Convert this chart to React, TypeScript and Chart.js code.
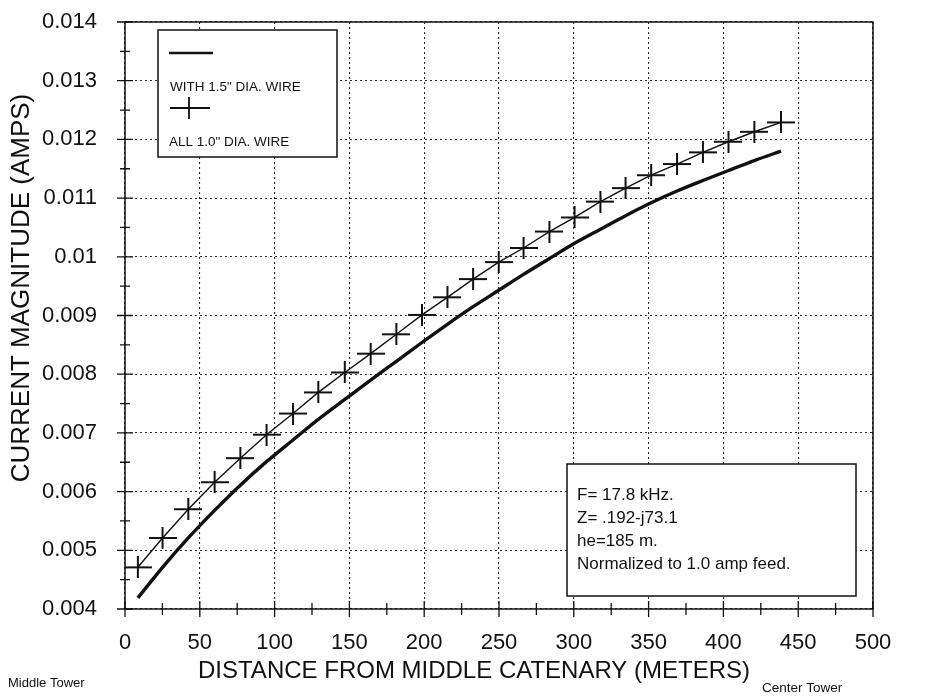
import React, { useEffect, useRef } from "react";
import { Chart, registerables } from "chart.js";

Chart.register(...registerables);

// ---- data ----
const distances = [8.6, 25.1, 42.3, 59.9, 77.1, 94.6, 112.3, 129.2, 146.9, 164.2, 181.4, 198.5, 215.5, 232.7, 249.8, 266.4, 283.7, 300.5, 317.8, 334.6, 351.7, 369.0, 386.3, 403.4, 420.7, 438.5];
const wire15 = [0.00419, 0.00471, 0.00521, 0.00568, 0.00611, 0.00651, 0.00688, 0.00723, 0.00757, 0.0079, 0.00822, 0.00854, 0.00885, 0.00915, 0.00943, 0.0097, 0.00997, 0.01023, 0.01047, 0.0107, 0.01092, 0.01112, 0.0113, 0.01147, 0.01164, 0.0118];
const wire10 = [0.00471, 0.00521, 0.0057, 0.00616, 0.00657, 0.00697, 0.00733, 0.00769, 0.00803, 0.00835, 0.00868, 0.00901, 0.00931, 0.00962, 0.00991, 0.01015, 0.01043, 0.01067, 0.01094, 0.01117, 0.01139, 0.01158, 0.01178, 0.01196, 0.01213, 0.01229];

const seriesLabels = ['WITH 1.5" DIA. WIRE', 'ALL 1.0" DIA. WIRE'];
const xTitle = "DISTANCE FROM MIDDLE CATENARY (METERS)";
const yTitle = "CURRENT MAGNITUDE (AMPS)";
const leftNote = "Middle Tower";
const rightNote = "Center Tower";
const notes = ["F= 17.8 kHz.", "Z= .192-j73.1", "he=185 m.", "Normalized to 1.0 amp feed."];
const xMin = 0, xMax = 500, xStep = 50, xMinor = 25;
const yMin = 0.004, yMax = 0.014, yStep = 0.001, yMinor = 0.0005;

const FONT = '"Liberation Sans", Arial, Helvetica, sans-serif';
const INK = "#111";

function makeCross(): HTMLCanvasElement {
  const c = document.createElement("canvas");
  c.width = 28;
  c.height = 22;
  const g = c.getContext("2d")!;
  g.strokeStyle = INK;
  g.lineWidth = 2;
  g.beginPath();
  g.moveTo(0, 11);
  g.lineTo(28, 11);
  g.moveTo(14, 0);
  g.lineTo(14, 22);
  g.stroke();
  return c;
}

const overlayPlugin = {
  id: "overlay",
  afterDatasetsDraw(chart: any) {
    const { ctx } = chart;
    const ds = chart.data.datasets;
    ctx.save();
    // legend box
    ctx.fillStyle = "#fff";
    ctx.fillRect(158, 30, 179, 127);
    ctx.strokeStyle = INK;
    ctx.lineWidth = 1.5;
    ctx.strokeRect(158, 30, 179, 127);
    ctx.lineWidth = 2.5;
    ctx.beginPath();
    ctx.moveTo(169, 53);
    ctx.lineTo(213, 53);
    ctx.stroke();
    ctx.lineWidth = 1.8;
    ctx.beginPath();
    ctx.moveTo(170, 108);
    ctx.lineTo(210, 108);
    ctx.moveTo(189, 97);
    ctx.lineTo(189, 119);
    ctx.stroke();
    ctx.fillStyle = INK;
    ctx.font = `13.5px ${FONT}`;
    ctx.textAlign = "left";
    ctx.textBaseline = "middle";
    ctx.fillText(ds[0].label, 170, 87);
    ctx.fillText(ds[1].label, 169, 142);

    // annotation box
    ctx.fillStyle = "#fff";
    ctx.fillRect(567, 464, 289, 132);
    ctx.lineWidth = 1.5;
    ctx.strokeRect(567, 464, 289, 132);
    ctx.fillStyle = INK;
    ctx.font = `17px ${FONT}`;
    const ys = [495, 518, 541, 564];
    notes.forEach((t, i) => ctx.fillText(t, 577, ys[i]));
    ctx.restore();
  },
  afterDraw(chart: any) {
    const { ctx, chartArea: a } = chart;
    const sx = chart.scales.x;
    const sy = chart.scales.y;
    ctx.save();
    ctx.strokeStyle = INK;
    ctx.lineWidth = 1.5;
    ctx.strokeRect(a.left, a.top, a.right - a.left, a.bottom - a.top);
    // x ticks crossing the axis
    ctx.lineWidth = 1.3;
    ctx.beginPath();
    for (let m = xMin; m <= xMax + 1e-9; m += xMinor) {
      const px = sx.getPixelForValue(m);
      const len = Math.abs(m % xStep) < 1e-9 ? 8 : 6;
      ctx.moveTo(px, a.bottom - len);
      ctx.lineTo(px, a.bottom + len);
    }
    // y ticks crossing the axis
    for (let k = 0; k <= Math.round((yMax - yMin) / yMinor); k++) {
      const v = yMin + k * yMinor;
      const py = sy.getPixelForValue(v);
      const len = k % 2 === 0 ? 8 : 5;
      ctx.moveTo(a.left - len, py);
      ctx.lineTo(a.left + len, py);
    }
    ctx.stroke();

    // titles and notes
    ctx.fillStyle = INK;
    ctx.textBaseline = "middle";
    ctx.textAlign = "center";
    ctx.font = `24px ${FONT}`;
    ctx.fillText(xTitle, 474, 671);
    ctx.save();
    ctx.translate(22, 288);
    ctx.rotate(-Math.PI / 2);
    ctx.font = `26px ${FONT}`;
    ctx.fillText(yTitle, 0, 0);
    ctx.restore();
    ctx.textAlign = "left";
    ctx.font = `13px ${FONT}`;
    ctx.fillText(leftNote, 8, 683);
    ctx.font = `13.5px ${FONT}`;
    ctx.fillText(rightNote, 762, 688);
    ctx.restore();
  },
};

export default function App() {
  const ref = useRef<HTMLCanvasElement | null>(null);

  useEffect(() => {
    if (!ref.current) return;
    const cross = makeCross();
    const chart = new Chart(ref.current, {
      type: "line",
      data: {
        datasets: [
          {
            label: seriesLabels[0],
            data: distances.map((d, i) => ({ x: d, y: wire15[i] })),
            borderColor: INK,
            borderWidth: 3.4,
            pointRadius: 0,
            cubicInterpolationMode: "monotone",
            fill: false,
          },
          {
            label: seriesLabels[1],
            data: distances.map((d, i) => ({ x: d, y: wire10[i] })),
            borderColor: INK,
            borderWidth: 1.4,
            pointStyle: cross as any,
            pointRadius: 12,
            pointHoverRadius: 12,
            fill: false,
          },
        ],
      },
      options: {
        responsive: false,
        animation: false,
        devicePixelRatio: 1,
        layout: { padding: { top: 22, right: 54, left: 0, bottom: 0 } },
        plugins: {
          legend: { display: false },
          tooltip: { enabled: false },
          title: { display: false },
        },
        scales: {
          x: {
            type: "linear",
            min: xMin,
            max: xMax,
            ticks: {
              stepSize: xStep,
              color: INK,
              padding: 21,
              font: { family: FONT, size: 22 },
              maxRotation: 0,
            },
            grid: { color: "#2a2a2a", lineWidth: 1.1, drawTicks: false },
            border: { display: false, dash: [2, 3] },
            afterFit: (s: any) => {
              s.height = 87;
            },
          },
          y: {
            type: "linear",
            min: yMin,
            max: yMax,
            ticks: {
              stepSize: yStep,
              color: INK,
              padding: 4,
              font: { family: FONT, size: 22 },
              callback: (v: any) => String(parseFloat(Number(v).toFixed(3))),
            },
            grid: { color: "#2a2a2a", lineWidth: 1.1, drawTicks: true, tickLength: 24, tickColor: "rgba(0,0,0,0)" },
            border: { display: false, dash: [2, 3] },
            afterFit: (s: any) => {
              s.width = 125;
            },
          },
        },
      },
      plugins: [overlayPlugin],
    });
    return () => chart.destroy();
  }, []);

  return (
    <div style={{ position: "absolute", left: 0, top: 0, width: 927, height: 696, background: "#fff" }}>
      <canvas ref={ref} width={927} height={696} />
    </div>
  );
}
